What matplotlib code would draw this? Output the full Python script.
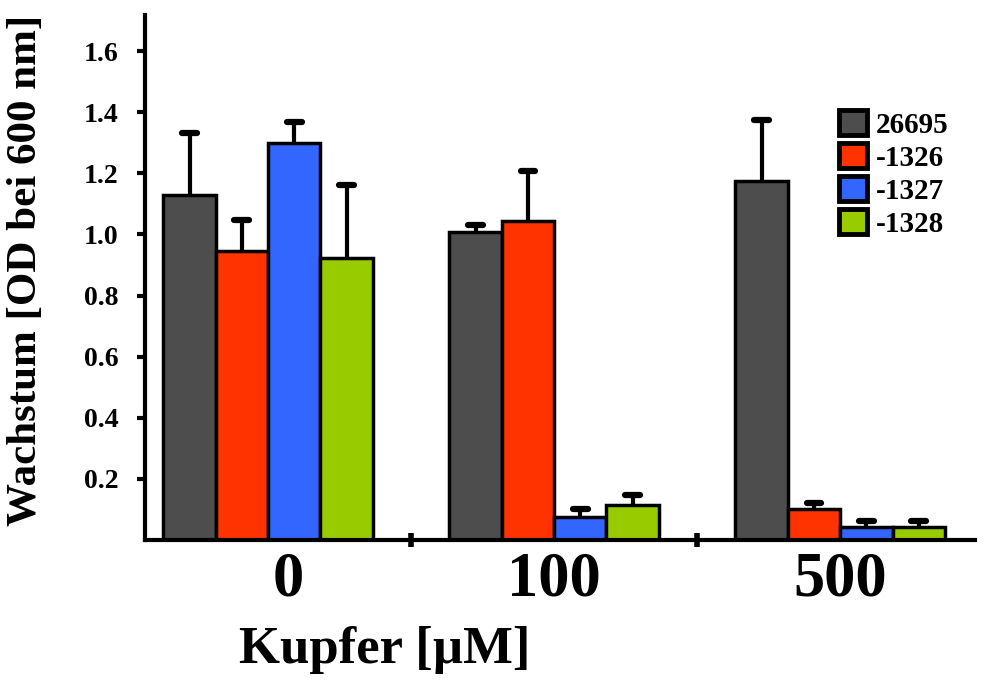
import matplotlib
matplotlib.use("Agg")
import matplotlib.pyplot as plt
import numpy as np
from matplotlib.patches import Patch

plt.rcParams['font.family'] = ['Liberation Serif', 'DejaVu Serif']
plt.rcParams['font.weight'] = 'bold'

groups = ['0', '100', '500']
series = ['26695', '-1326', '-1327', '-1328']
colors = ['#4d4d4d', '#ff3300', '#3366ff', '#99cc00']
values = [
    [1.129, 1.008, 1.175],
    [0.946, 1.044, 0.101],
    [1.299, 0.075, 0.043],
    [0.923, 0.115, 0.043],
]
errors = [
    [0.203, 0.023, 0.199],
    [0.101, 0.163, 0.020],
    [0.069, 0.026, 0.019],
    [0.239, 0.032, 0.019],
]

fig = plt.figure(figsize=(9.9, 6.81), dpi=100)
ax = fig.add_axes([0.1465, 0.207, 0.838, 0.771])

x = np.arange(len(groups))
width = 0.183
cap_hw = 0.026
for i, (name, col) in enumerate(zip(series, colors)):
    pos = x + (i - 1.5) * width
    v = np.array(values[i])
    e = np.array(errors[i])
    ax.bar(pos, v, width, color=col, edgecolor='black', linewidth=2.5,
           label=name, zorder=2)
    ax.vlines(pos, v, v + e, colors='black', linewidth=3, zorder=1)
    ax.hlines(v + e, pos - cap_hw, pos + cap_hw, colors='black', linewidth=4.5,
              capstyle='round', zorder=1)

ax.set_xlim(-0.43, 2.47)
ax.set_ylim(0, 1.718)
ax.set_yticks([0.2, 0.4, 0.6, 0.8, 1.0, 1.2, 1.4, 1.6])
ax.set_yticklabels(['0.2', '0.4', '0.6', '0.8', '1.0', '1.2', '1.4', '1.6'],
                   fontsize=20, fontweight='bold')
ax.set_xticks([0.07, 1, 2])
ax.set_xticklabels(groups, fontsize=45, fontweight='bold')
ax.set_xticks([0.5, 1.5], minor=True)
ax.tick_params(axis='x', which='major', length=0, pad=8)
ax.tick_params(axis='x', which='minor', length=10, width=4, direction='inout')
ax.tick_params(axis='y', which='major', length=6, width=3, direction='out', pad=13)

for s in ['top', 'right']:
    ax.spines[s].set_visible(False)
for s in ['left', 'bottom']:
    ax.spines[s].set_linewidth(3)

ax.set_ylabel('Wachstum [OD bei 600 nm]', fontsize=31, fontweight='bold')
ax.yaxis.set_label_coords(-0.12, 0.514)
ax.set_xlabel('Kupfer [µM]', fontsize=38, fontweight='bold', va='baseline')
ax.xaxis.set_label_coords(0.289, -0.234)

handles = [Patch(facecolor=c, edgecolor='black', linewidth=3.5) for c in colors]
leg = ax.legend(handles, series, loc='upper left', bbox_to_anchor=(0.837, 0.819),
                frameon=False, prop=dict(size=21, weight='bold'),
                handlelength=0.95, handleheight=0.95, handletextpad=0.3,
                labelspacing=0.15, borderaxespad=0, borderpad=0)

fig.savefig('out.png', dpi=100)
